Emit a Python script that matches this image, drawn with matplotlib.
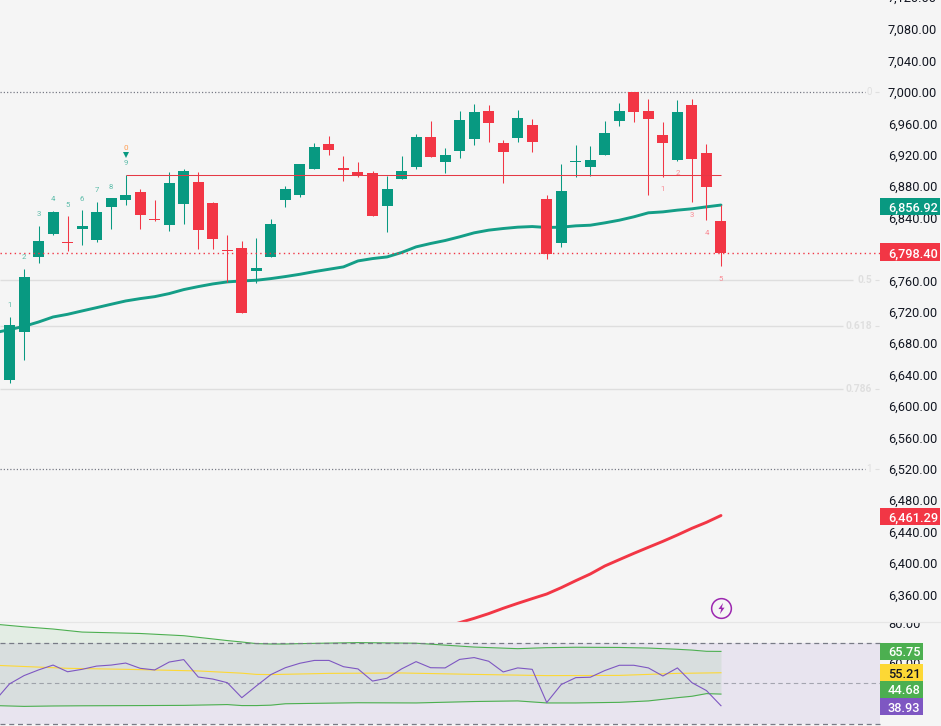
import matplotlib
matplotlib.use("Agg")
import matplotlib.pyplot as plt
from matplotlib.patches import Rectangle
from matplotlib.path import Path

plt.rcParams['font.family'] = ['Roboto', 'DejaVu Sans']

opens = [6633.0,6694.3,6789.9,6818.9,6809.5,6825.2,6811.2,6853.3,6862.2,6872.4,6838.0,6830.3,6857.1,6885.2,6858.4,6798.4,6801.0,6771.7,6789.5,6862.2,
         6868.6,6901.8,6933.7,6903.0,6897.9,6896.7,6854.6,6889.0,6904.3,6942.6,6910.7,6924.7,6940.0,6975.8,6934.9,6941.3,6957.9,6863.5,6807.4,6910.7,
         6904.3,6919.6,6963.0,7000.0,6975.8,6945.1,6913.3,6983.4,6922.2,6835.4]
closes = [6702.8,6764.0,6809.9,6846.9,6808.2,6829.1,6846.9,6864.8,6868.6,6843.1,6836.7,6883.9,6899.2,6824.0,6812.5,6797.2,6718.1,6775.5,6831.6,6876.3,
          6908.1,6929.8,6926.0,6900.5,6893.7,6841.8,6876.3,6899.2,6942.6,6917.1,6919.6,6964.3,6974.5,6960.4,6923.5,6966.8,6936.2,6793.3,6873.7,6912.0,
          6913.3,6947.7,6975.8,6974.5,6965.6,6934.9,6974.5,6914.5,6878.8,6794.6]
highs = [6713.0,6774.2,6829.1,6848.2,6841.8,6849.5,6859.7,6864.8,6894.1,6876.3,6862.2,6897.9,6901.8,6897.9,6860.1,6817.6,6809.9,6813.8,6838.0,6880.1,
         6908.1,6934.9,6943.9,6918.4,6910.7,6899.2,6892.8,6918.4,6946.4,6963.0,6928.6,6975.8,6984.7,6983.4,6938.8,6977.0,6965.6,6868.6,6908.1,6932.4,
         6931.1,6963.0,6986.0,7000.0,6991.1,6961.7,6989.8,6991.1,6933.7,6855.8]
lows = [6629.2,6658.1,6782.3,6817.6,6797.2,6804.8,6808.6,6825.2,6855.8,6825.2,6835.4,6822.7,6831.6,6799.7,6799.7,6758.1,6718.1,6756.4,6789.5,6853.3,
        6866.1,6901.8,6919.6,6886.5,6891.6,6841.8,6821.4,6889.0,6901.8,6917.1,6896.7,6915.8,6932.4,6936.2,6883.9,6936.2,6923.5,6787.0,6802.3,6891.6,
        6893.3,6919.6,6956.6,6961.7,6868.6,6891.6,6912.0,6859.7,6836.7,6778.0]

ma_fast = [6693.4,6697.3,6701.5,6707.0,6713.4,6716.8,6721.1,6725.3,6729.6,6733.8,6736.8,6739.3,6743.2,6748.3,6752.1,6755.5,6758.1,6759.3,6760.2,6762.3,6764.9,
           6767.8,6771.2,6774.2,6777.2,6784.8,6787.8,6789.9,6795.5,6802.7,6807.0,6810.8,6815.5,6820.6,6824.0,6826.1,6827.8,6828.6,6827.4,6827.8,6829.5,
           6830.3,6833.3,6836.7,6841.0,6846.1,6847.3,6849.5,6851.2,6853.7,6856.0]
ma_slow_idx = [30,31,32,33,34,35,36,37,38,39,40,41,42,43,44,45,46,47,48,49]
ma_slow = [6318.5,6324.0,6329.5,6335.5,6342.3,6348.6,6354.6,6360.5,6368.6,6377.5,6386.0,6396.2,6404.3,6412.3,6420.0,6427.6,6435.7,6444.2,6451.8,6460.5]

rsi = [41.4,49.7,53.8,56.6,59.0,55.7,56.9,58.5,59.0,60.0,57.4,56.6,60.5,61.7,53.1,52.1,50.3,42.9,48.7,54.3,57.7,59.9,61.3,61.3,58.2,57.1,51.1,52.5,57.1,60.7,57.7,57.6,61.8,
       62.7,60.9,55.6,57.6,56.9,40.5,49.4,52.8,53.0,56.3,58.9,58.9,57.6,53.6,57.6,50.3,46.4,38.93]
rsi_ma_idx = [-1,4,8,13,16,17,18,22,27,32,37,42,46,49]
rsi_ma = [58.9,57.4,56.9,56.1,55.0,54.4,54.3,54.9,55.1,54.4,53.8,53.9,54.9,55.21]
band_idx = [-1,1,3,5,9,12,15,16,17,18,19,20,24,28,32,35,37,39,42,44,46,47,48,49]
band_up = [79.2,77.9,76.8,75.3,74.6,73.5,71.1,70.4,69.6,69.4,69.4,69.6,70.1,69.8,67.9,67.1,67.6,67.8,67.7,67.4,66.8,66.4,65.8,65.75]
band_lo = [39.0,38.6,38.8,38.9,39.0,39.1,39.5,39.0,39.0,39.2,39.9,40.0,40.4,40.3,41.0,41.3,40.3,40.3,40.6,41.3,42.9,43.6,44.9,44.68]

seq_up_idx = [0,1,2,3,4,5,6,7,8]
seq_up_txt = ['1','2','3','4','5','6','7','8','9']
seq_up_y = [6728.7,6789.9,6845.2,6864.0,6856.3,6864.0,6875.4,6879.2,6909.0]
seq_dn_idx = [45,46,47,48,49]
seq_dn_txt = ['1','2','3','4','5']
seq_dn_y = [6875.8,6896.2,6843.9,6820.6,6762.3]

price_ticks = [7080,7040,7000,6960,6920,6880,6840,6760,6720,6680,6640,6600,6560,6520,6480,6440,6400,6360]
rsi_ticks = [80,60]
fib_levels = [6760.0,6702.5,6621.5]
fib_texts = ['0.5','0.618','0.786']
fib_ends = [852.5,842.5,842.5]

W, H = 941, 726
BG = '#f5f5f5'
GREEN = '#089981'
RED = '#f23645'
INK = '#131722'
SPLIT = 622
PXU = 0.785
SP = 14.52
X0 = 9.5
FS = 9.15

def fx(x): return x / W
def fy(y): return 1 - y / H

fig = plt.figure(figsize=(W / 100, H / 100), dpi=100, facecolor=BG)
ax = fig.add_axes([0, 1 - SPLIT / H, 1, SPLIT / H], facecolor=BG)
rx = fig.add_axes([0, 0, 1, (H - SPLIT) / H], facecolor=BG)
xlim = (-X0 / SP, (W - X0) / SP)
def xi(px): return (px - X0) / SP

# ---- main pane
ax.set_xlim(xlim)
ax.set_ylim(7000 - (SPLIT - 92) / PXU, 7000 + 92 / PXU)
for s in ax.spines.values():
    s.set_visible(False)
ax.set_xticks([])
ax.yaxis.tick_right()
ax.set_yticks(price_ticks)
ax.set_yticklabels([f'{t:,.2f}' for t in price_ticks])
ax.tick_params(axis='y', length=0, pad=-38.2, labelsize=FS, labelcolor=INK)
ax.text(xi(888), 7120, '7,120.00', fontsize=FS, color=INK, va='center', ha='left', clip_on=True)

for i, (o, h, l, c) in enumerate(zip(opens, highs, lows, closes)):
    col = GREEN if c >= o else RED
    ax.vlines(i, l, h, color=col, lw=0.75, zorder=2)
    ax.bar(i, max(abs(c - o), 1.2), bottom=min(o, c), width=0.76, color=col, linewidth=0, zorder=3)

ax.plot(range(-1, 50), ma_fast, color=GREEN, lw=2.1, zorder=1.5, solid_capstyle='round', alpha=0.95)
ax.plot(ma_slow_idx, ma_slow, color=RED, lw=2.1, zorder=1.5, solid_capstyle='round')

ax.hlines(6893.7, 8, 49, color='#e53945', lw=0.75, zorder=4)
ax.hlines(6795.5, xlim[0], xi(880), color=RED, lw=1.0, linestyles=(0, (1, 2.4)), zorder=4)
for p in (7000, 6520):
    ax.hlines(p, xlim[0], xi(865), color='#787b86', lw=0.9, linestyles=(0, (1, 1.6)), zorder=1)
for p, t in zip((7000, 6520), ('0', '1')):
    ax.text(xi(869), p, t, fontsize=7, color='#dfdfdf', ha='center', va='center')
    ax.hlines(p, xi(875), xi(879), color='#dfdfdf', lw=0.8)
for p, t, e in zip(fib_levels, fib_texts, fib_ends):
    ax.hlines(p, xlim[0], xi(e), color='#dedede', lw=1.0, zorder=1)
    ax.text(xi(872), p, t, fontsize=7.4, color='#dfdfdf', ha='right', va='center', fontweight='bold')
    ax.hlines(p, xi(875), xi(879), color='#dfdfdf', lw=0.8)

for i, t, y in zip(seq_up_idx, seq_up_txt, seq_up_y):
    ax.text(i, y, t, fontsize=5.6, color='#5dbcaa', ha='center', va='center', zorder=5)
for i, t, y in zip(seq_dn_idx, seq_dn_txt, seq_dn_y):
    ax.text(i, y, t, fontsize=5.6, color='#f98a93', ha='center', va='center', zorder=5)
ax.text(8, 6929.0, '0', fontsize=5.8, color='#ff9c50', ha='center', va='center', zorder=5)
ax.plot([8], [6919.6], marker='v', ms=4, color=GREEN, ls='none', mew=0, zorder=5)

ax.plot([49], [6342.3], marker='o', ms=14.2, mfc='none', mec='#9c27b0', mew=1.1, ls='none', zorder=6)
bolt = Path([(0.28, 1), (-0.55, -0.1), (-0.05, -0.1), (-0.28, -1), (0.55, 0.15), (0.05, 0.15), (0.28, 1)])
ax.plot([49], [6342.3], marker=bolt, ms=8, color='#9c27b0', mew=0, ls='none', zorder=6)

# ---- RSI pane
RU = 2.025
rx.set_xlim(xlim)
rx.set_ylim(50 + (683.3 - H) / RU, 50 + (683.3 - SPLIT) / RU)
for s in rx.spines.values():
    s.set_visible(False)
rx.set_xticks([])
rx.yaxis.tick_right()
rx.set_yticks(rsi_ticks)
rx.set_yticklabels([f'{t:.2f}' for t in rsi_ticks])
rx.tick_params(axis='y', length=0, pad=-38.2, labelsize=FS, labelcolor=INK)
for lab in rx.get_yticklabels():
    lab.set_clip_box(rx.bbox)
    lab.set_clip_on(True)
rx.fill_between([xlim[0], xi(880)], 30, 70, color='#7e57c2', alpha=0.1, lw=0, zorder=1)
rx.fill_between(band_idx, band_lo, band_up, color='#4caf50', alpha=0.1, lw=0, zorder=2)
rx.plot(band_idx, band_up, color='#4caf50', lw=0.8, zorder=3)
rx.plot(band_idx, band_lo, color='#4caf50', lw=0.8, zorder=3)
rx.plot(rsi_ma_idx, rsi_ma, color='#fdd835', lw=0.8, zorder=3)
rx.plot(range(-1, 50), rsi, color='#7e57c2', lw=0.8, zorder=4)
rx.hlines([70, 30], xlim[0], xi(880), color='#787b86', lw=0.9, linestyles=(0, (4, 3)), zorder=3)
rx.hlines(50, xlim[0], xi(880), color='#787b86', lw=0.8, alpha=0.6, linestyles=(0, (4, 3)), zorder=3)

fig.add_artist(plt.Line2D([0, 1], [fy(621.5)] * 2, color='#e6e6e6', lw=0.9))

# ---- value labels
def tag(txt, y0, y1, x1, bg, fg='white'):
    fig.add_artist(Rectangle((fx(880), fy(y1)), fx(x1 - 880), (y1 - y0) / H, color=bg, lw=0, zorder=10))
    fig.text(fx(888), fy((y0 + y1) / 2), txt, color=fg, fontsize=FS, fontweight='medium', va='center_baseline', ha='left', zorder=11)

tag('6,856.92', 197.7, 215, 940, GREEN)
tag('6,798.40', 243.5, 261, 940, RED)
tag('6,461.29', 507.5, 525, 940, RED)
tag('65.75', 643, 660, 923, '#4caf50')
tag('55.21', 664, 681, 923, '#fdd835', INK)
tag('44.68', 681, 698, 923, '#4caf50')
tag('38.93', 698, 715, 923, '#7e57c2')

fig.savefig('out.png', dpi=100, facecolor=BG)
